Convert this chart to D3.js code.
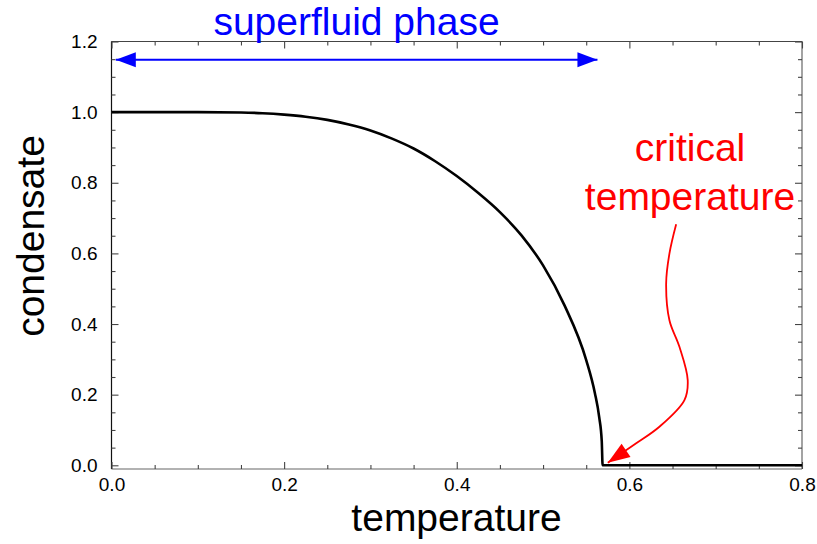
<!DOCTYPE html>
<html>
<head>
<meta charset="utf-8">
<script src="https://cdn.jsdelivr.net/npm/d3@7"></script>
<style>
  html, body { margin: 0; padding: 0; background: #fff; }
  svg { display: block; font-family: "Liberation Sans", Arial, Helvetica, sans-serif; }
</style>
</head>
<body>
<svg id="chart" width="817" height="544"></svg>
<script>
// Order parameter (condensate) versus temperature
const temperature = [0, 0.05, 0.10, 0.15, 0.175, 0.20, 0.225, 0.25, 0.275, 0.30, 0.325, 0.35, 0.375,
  0.40, 0.425, 0.45, 0.475, 0.50, 0.525, 0.55, 0.56, 0.565, 0.568, 0.569, 0.8];
const condensate = [1.0, 1.0, 1.0, 0.999, 0.997, 0.993, 0.987, 0.978, 0.965, 0.948, 0.925, 0.897, 0.861,
  0.819, 0.771, 0.717, 0.651, 0.566, 0.452, 0.298, 0.205, 0.137, 0.068, 0.0, 0.0];

// Axis ticks
const xMajorTicks = [0.0, 0.2, 0.4, 0.6, 0.8];
const xMinorTicks = [0.05, 0.1, 0.15, 0.25, 0.3, 0.35, 0.45, 0.5, 0.55, 0.65, 0.7, 0.75];
const yMajorTicks = [0.0, 0.2, 0.4, 0.6, 0.8, 1.0, 1.2];
const yMinorTicks = [0.05, 0.1, 0.15, 0.25, 0.3, 0.35, 0.45, 0.5, 0.55, 0.65, 0.7, 0.75,
  0.85, 0.9, 0.95, 1.05, 1.1, 1.15];

// Annotations (data coordinates)
const phaseSpan = [0.005, 0.563];
const phaseLevel = 1.148;
const criticalArrowT = [0.6542, 0.6464, 0.6426, 0.6464, 0.658, 0.6676, 0.6638, 0.6348, 0.6079, 0.575];
const criticalArrowC = [0.6824, 0.5995, 0.5147, 0.4109, 0.3354, 0.2412, 0.1847, 0.1092, 0.0622, 0.0074];

const svg = d3.select("#chart");
const plotLeft = 111.5, plotRight = 802, plotTop = 41.5, plotBottom = 469;

const x = d3.scaleLinear().domain([0, 0.8]).range([plotLeft, plotRight]);
const y = d3.scaleLinear().domain([-0.0105, 1.2]).range([plotBottom, plotTop]);

const fmt = d3.format(".1f");

// Frame
const frame = svg.append("g");
frame.append("line").attr("x1", plotLeft).attr("x2", plotRight).attr("y1", plotBottom).attr("y2", plotBottom).attr("stroke", "#666").attr("stroke-width", 1.2);
frame.append("line").attr("x1", plotLeft).attr("x2", plotRight).attr("y1", plotTop).attr("y2", plotTop).attr("stroke", "#444").attr("stroke-width", 1.2);
frame.append("line").attr("x1", plotRight).attr("x2", plotRight).attr("y1", plotTop).attr("y2", plotBottom).attr("stroke", "#666").attr("stroke-width", 1.2);
frame.append("line").attr("x1", plotLeft).attr("x2", plotLeft).attr("y1", plotTop).attr("y2", plotBottom).attr("stroke", "#111").attr("stroke-width", 1.2);

function styleAxis(g) {
  g.select(".domain").remove();
  g.selectAll(".tick line").attr("stroke", "#444").attr("stroke-width", 1.1);
  g.selectAll(".tick text").attr("fill", "#000").style("font-size", "19px")
    .style("font-family", "'Liberation Sans', Arial, Helvetica, sans-serif");
}

// Bottom axis
svg.append("g").attr("transform", `translate(0,${plotBottom})`)
  .call(d3.axisBottom(x).tickValues(xMajorTicks).tickFormat(fmt).tickSizeInner(-7).tickSizeOuter(0).tickPadding(9))
  .call(styleAxis);
svg.append("g").attr("transform", `translate(0,${plotBottom})`)
  .call(d3.axisBottom(x).tickValues(xMinorTicks).tickFormat("").tickSizeInner(-4).tickSizeOuter(0))
  .call(styleAxis);
// Top axis
svg.append("g").attr("transform", `translate(0,${plotTop})`)
  .call(d3.axisTop(x).tickValues(xMajorTicks).tickFormat("").tickSizeInner(-7).tickSizeOuter(0))
  .call(styleAxis);
svg.append("g").attr("transform", `translate(0,${plotTop})`)
  .call(d3.axisTop(x).tickValues(xMinorTicks).tickFormat("").tickSizeInner(-4).tickSizeOuter(0))
  .call(styleAxis);
// Left axis
svg.append("g").attr("transform", `translate(${plotLeft},0)`)
  .call(d3.axisLeft(y).tickValues(yMajorTicks).tickFormat(fmt).tickSizeInner(-7).tickSizeOuter(0).tickPadding(14))
  .call(styleAxis);
svg.append("g").attr("transform", `translate(${plotLeft},0)`)
  .call(d3.axisLeft(y).tickValues(yMinorTicks).tickFormat("").tickSizeInner(-4).tickSizeOuter(0))
  .call(styleAxis);
// Right axis
svg.append("g").attr("transform", `translate(${plotRight},0)`)
  .call(d3.axisRight(y).tickValues(yMajorTicks).tickFormat("").tickSizeInner(-7).tickSizeOuter(0))
  .call(styleAxis);
svg.append("g").attr("transform", `translate(${plotRight},0)`)
  .call(d3.axisRight(y).tickValues(yMinorTicks).tickFormat("").tickSizeInner(-4).tickSizeOuter(0))
  .call(styleAxis);

// Condensate curve
const pts = temperature.map((t, i) => [t, condensate[i]]);
const line = d3.line().x(d => x(d[0])).y(d => y(d[1])).curve(d3.curveMonotoneX);
svg.append("path").datum(pts).attr("d", line)
  .attr("fill", "none").attr("stroke", "#000").attr("stroke-width", 2.6).attr("stroke-linejoin", "round");

// Arrow markers
const defs = svg.append("defs");
defs.append("marker").attr("id", "headBlue").attr("markerUnits", "userSpaceOnUse")
  .attr("viewBox", "-22 -8 24 16").attr("refX", 0).attr("refY", 0)
  .attr("markerWidth", 24).attr("markerHeight", 16).attr("orient", "auto-start-reverse")
  .append("path").attr("d", "M0,0 L-20,-7.5 L-20,7.5 Z").attr("fill", "#0000ff");
defs.append("marker").attr("id", "headRed").attr("markerUnits", "userSpaceOnUse")
  .attr("viewBox", "-24 -9 26 18").attr("refX", 0).attr("refY", 0)
  .attr("markerWidth", 26).attr("markerHeight", 18).attr("orient", "auto")
  .append("path").attr("d", "M0,0 L-22,-8 L-22,8 Z").attr("fill", "#ff0000");

// Superfluid phase span
svg.append("line")
  .attr("x1", x(phaseSpan[0])).attr("x2", x(phaseSpan[1]))
  .attr("y1", y(phaseLevel)).attr("y2", y(phaseLevel))
  .attr("stroke", "#0000ff").attr("stroke-width", 2)
  .attr("marker-start", "url(#headBlue)").attr("marker-end", "url(#headBlue)");
svg.append("text").attr("x", 356.5).attr("y", 35).attr("text-anchor", "middle")
  .attr("fill", "#0000ff").style("font-size", "39px").text("superfluid phase");

// Critical temperature pointer
const arrowPts = criticalArrowT.map((t, i) => [t, criticalArrowC[i]]);
const arrowLine = d3.line().x(d => x(d[0])).y(d => y(d[1])).curve(d3.curveCatmullRom);
svg.append("path").datum(arrowPts).attr("d", arrowLine)
  .attr("fill", "none").attr("stroke", "#ff0000").attr("stroke-width", 1.8)
  .attr("marker-end", "url(#headRed)");
const crit = svg.append("text").attr("text-anchor", "middle").attr("fill", "#ff0000").style("font-size", "39px");
crit.append("tspan").attr("x", 690).attr("y", 160.5).text("critical");
crit.append("tspan").attr("x", 690).attr("y", 210).text("temperature");

// Axis titles
svg.append("text").attr("x", 456.5).attr("y", 531).attr("text-anchor", "middle")
  .attr("fill", "#000").style("font-size", "39px").text("temperature");
svg.append("text").attr("transform", "translate(44,236) rotate(-90)").attr("text-anchor", "middle")
  .attr("fill", "#000").style("font-size", "39px").text("condensate");
</script>
</body>
</html>
